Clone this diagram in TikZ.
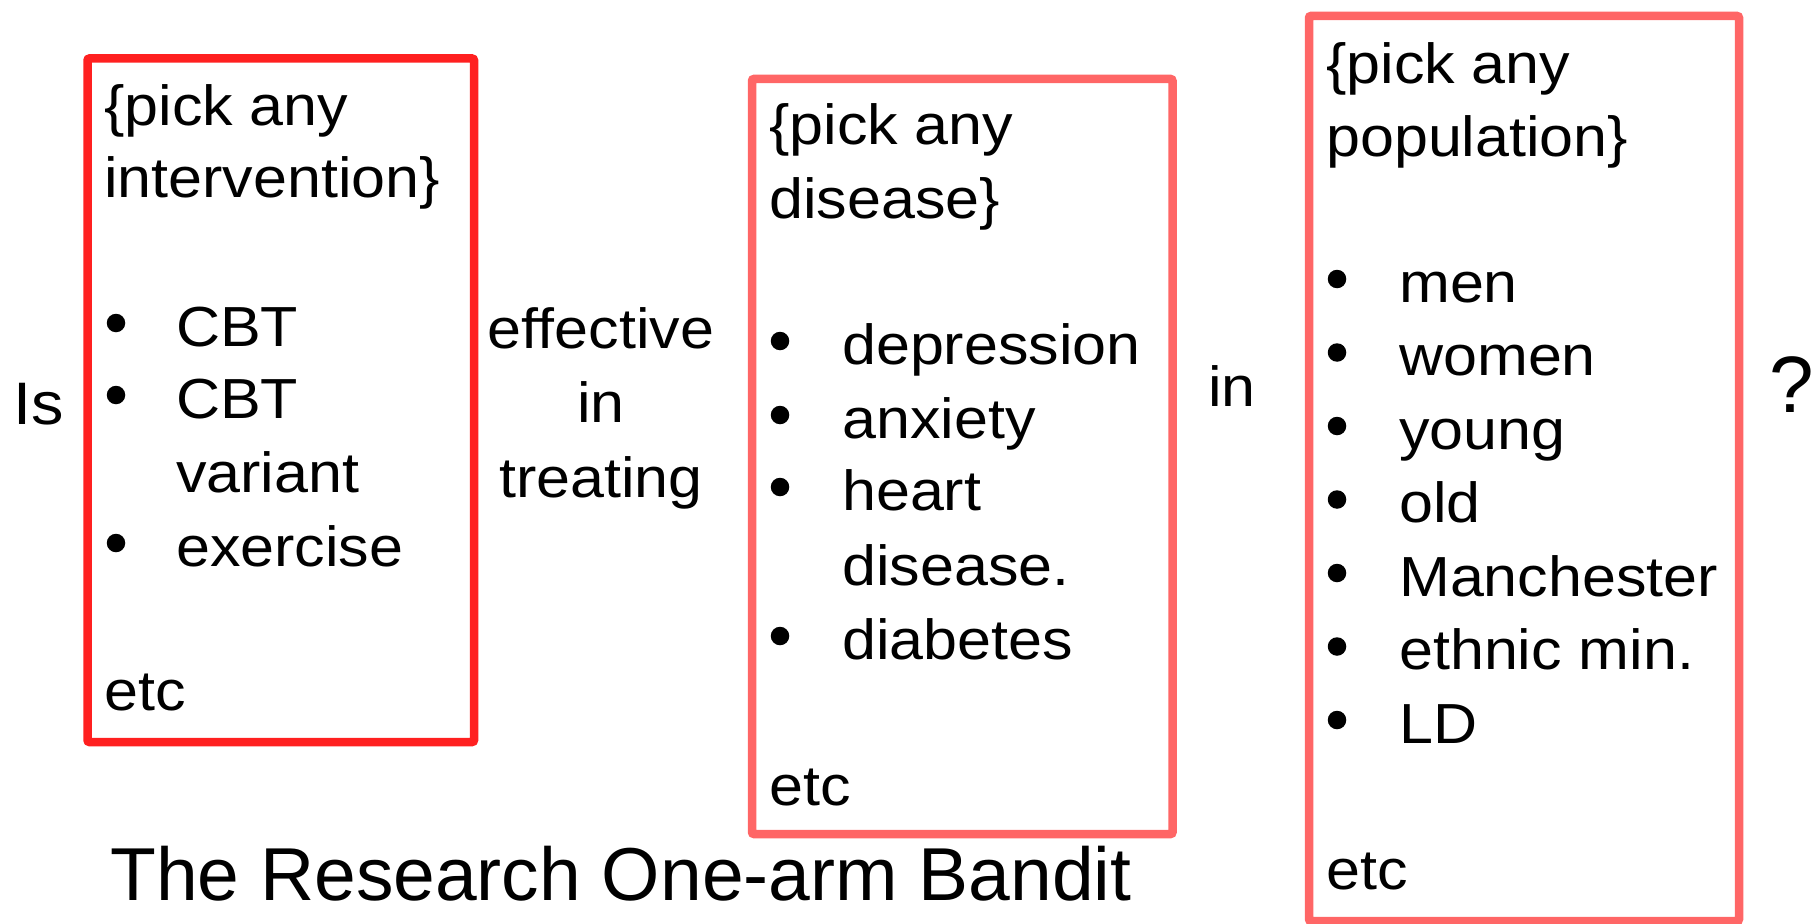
\documentclass[tikz,border=0pt]{standalone}
\usepackage{fontspec}
\setmainfont{Liberation Sans}
\newfontfamily\bodyfont{Liberation Sans}[FakeStretch=1.08]
\definecolor{boxred}{HTML}{FF2020}
\definecolor{boxpink}{HTML}{FF6666}
\tikzset{
  frame/.style={draw, line width=8.5pt, rounded corners=2pt},
  txt/.style={anchor=base west, inner sep=0pt, font=\bodyfont\fontsize{56.5}{68}\selectfont},
  word/.style={anchor=base, inner sep=0pt, font=\bodyfont\fontsize{56.5}{68}\selectfont},
  bigword/.style={anchor=base, inner sep=0pt, font=\fontsize{80}{90}\selectfont},
  title/.style={anchor=base west, inner sep=0pt, font=\fontsize{75}{90}\selectfont},
  bul/.style={circle, fill=black, inner sep=0pt, minimum size=18.5pt},
}
\begin{document}
\begin{tikzpicture}[x=1pt,y=-1pt]
\useasboundingbox (0,0) rectangle (1819,923);
% frames
\draw[frame, boxred] (87.5,58.5) rectangle (474,742);
\draw[frame, boxpink] (752,79) rectangle (1172.5,834);
\draw[frame, boxpink] (1309,16) rectangle (1739,921);
% free words
\node[txt, font=\bodyfont\fontsize{60}{70}\selectfont] (is) at (13,424) {Is};
\node[word] (eff) at (601,348) {effective};
\node[word] (in1) at (601,422) {in};
\node[word] (treat) at (601,497) {treating};
\node[word] (in2) at (1232,406) {in};
\node[bigword] (q) at (1792,412) {?};
% box 1
\node[txt] (a1) at (104,125) {\{pick any};
\node[txt] (a2) at (104,197) {intervention\}};
\node[bul] (ab1) at (116,323) {};
\node[txt] (ai1) at (176,346) {CBT};
\node[bul] (ab2) at (116,395) {};
\node[txt] (ai2) at (176,418) {CBT};
\node[txt] (ai2b) at (176,492) {variant};
\node[bul] (ab3) at (116,543) {};
\node[txt] (ai3) at (176,566) {exercise};
\node[txt] (aetc) at (104,710) {etc};
% box 2
\node[txt] (b1) at (769,144) {\{pick any};
\node[txt] (b2) at (769,218) {disease\}};
\node[bul] (bb1) at (780,341) {};
\node[txt] (bi1) at (842,364) {depression};
\node[bul] (bb2) at (780,415) {};
\node[txt] (bi2) at (842,438) {anxiety};
\node[bul] (bb3) at (780,487) {};
\node[txt] (bi3) at (842,510) {heart};
\node[txt] (bi3b) at (842,585) {disease.};
\node[bul] (bb4) at (780,636) {};
\node[txt] (bi4) at (842,659) {diabetes};
\node[txt] (betc) at (769,805) {etc};
% box 3
\node[txt] (c1) at (1326,84) {\{pick any};
\node[txt] (c2) at (1326,156) {population\}};
\node[bul] (cb1) at (1337,279) {};
\node[txt] (ci1) at (1399,302) {men};
\node[bul] (cb2) at (1337,352.5) {};
\node[txt] (ci2) at (1399,375.5) {women};
\node[bul] (cb3) at (1337,426) {};
\node[txt] (ci3) at (1399,449) {young};
\node[bul] (cb4) at (1337,499.5) {};
\node[txt] (ci4) at (1399,522.5) {old};
\node[bul] (cb5) at (1337,573) {};
\node[txt] (ci5) at (1399,596) {Manchester};
\node[bul] (cb6) at (1337,646.5) {};
\node[txt] (ci6) at (1399,669.5) {ethnic min.};
\node[bul] (cb7) at (1337,720) {};
\node[txt] (ci7) at (1399,743) {LD};
\node[txt] (cetc) at (1326,889) {etc};
% title
\node[title] (ttl) at (110,900) {The Research One-arm Bandit};
\end{tikzpicture}
\end{document}
